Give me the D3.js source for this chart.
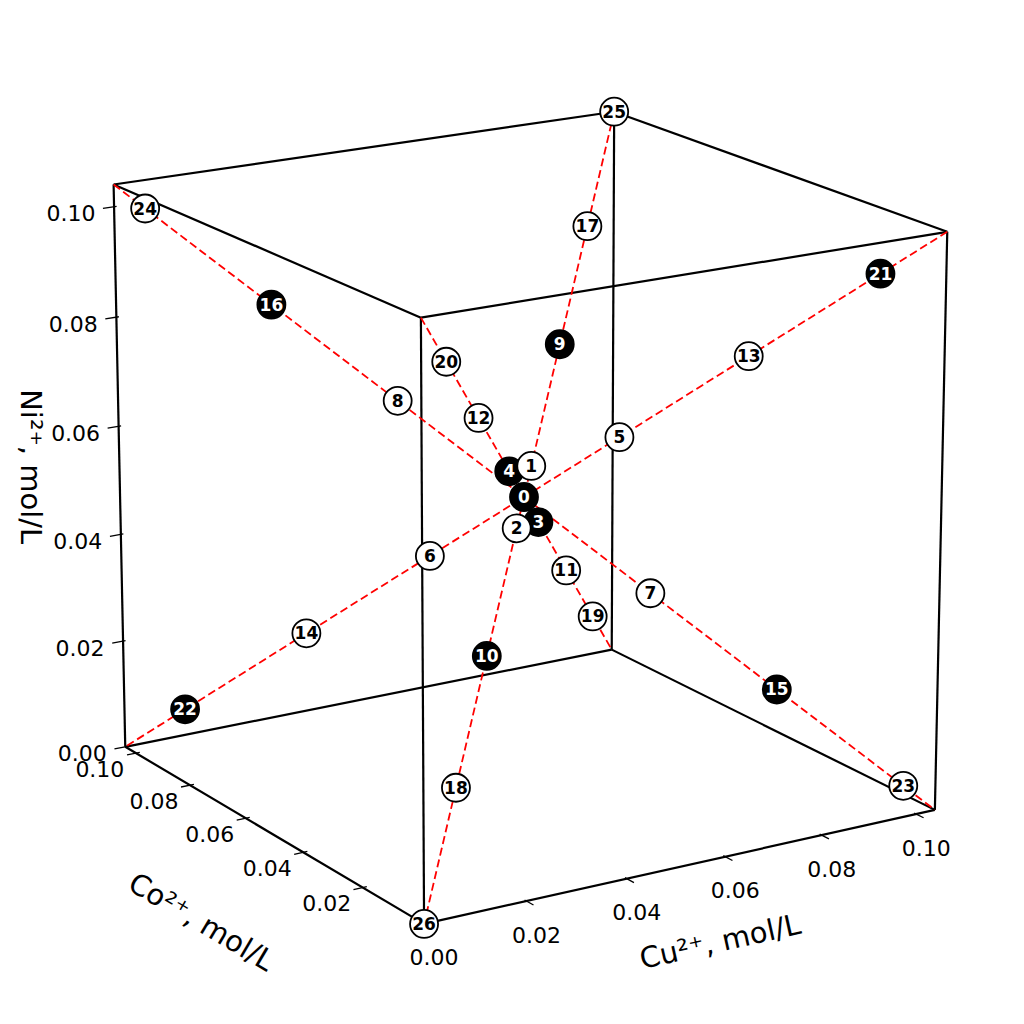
<!DOCTYPE html>
<html>
<head>
<meta charset="utf-8">
<script src="https://cdn.jsdelivr.net/npm/d3@7"></script>
<style>
  html, body { margin: 0; padding: 0; background: #fff; }
  svg { display: block; font-family: "DejaVu Sans", sans-serif; }
</style>
</head>
<body>
<div id="chart"></div>
<script>
// experiment points (mol/L)
const ids = [0, 1, 2, 3, 4, 5, 6, 7, 8, 9, 10, 11, 12, 13, 14, 15, 16, 17, 18, 19, 20, 21, 22, 23, 24, 25, 26];
const cu = [0.052, 0.056, 0.048, 0.060, 0.044, 0.064, 0.040, 0.068, 0.036, 0.072, 0.032, 0.076, 0.028, 0.080, 0.024, 0.084, 0.020, 0.088, 0.016, 0.092, 0.012, 0.096, 0.008, 0.100, 0.004, 0.104, 0];
const co = [0.052, 0.056, 0.048, 0.060, 0.044, 0.040, 0.064, 0.036, 0.068, 0.072, 0.032, 0.076, 0.028, 0.024, 0.080, 0.020, 0.084, 0.088, 0.016, 0.092, 0.012, 0.008, 0.096, 0.004, 0.100, 0.104, 0];
const ni = [0.052, 0.056, 0.048, 0.044, 0.060, 0.064, 0.040, 0.036, 0.068, 0.072, 0.032, 0.028, 0.076, 0.080, 0.024, 0.020, 0.084, 0.088, 0.016, 0.012, 0.092, 0.096, 0.008, 0.004, 0.100, 0.104, 0];
const filledIds = [0, 3, 4, 9, 10, 15, 16, 21, 22];

const limits = [0, 0.104];
const ticks = [0, 0.02, 0.04, 0.06, 0.08, 0.10];
const tickLabels = ["0.00", "0.02", "0.04", "0.06", "0.08", "0.10"];
const axisLabels = ["Cu²⁺, mol/L", "Co²⁺, mol/L", "Ni²⁺, mol/L"];

const width = 1024;
const height = 1024;

// camera
const view = { azim: 238, elev: 17, dist: 20, scale: 298, cx: 524, cy: 497 };

const norm = d3.scaleLinear().domain(limits).range([-1, 1]);

const rad = Math.PI / 180;
const az = view.azim * rad, el = view.elev * rad;
const R = [-Math.sin(az), Math.cos(az), 0];
const U = [-Math.sin(el) * Math.cos(az), -Math.sin(el) * Math.sin(az), Math.cos(el)];
const C = [Math.cos(el) * Math.cos(az), Math.cos(el) * Math.sin(az), Math.sin(el)];

function project(p) {
  const q = p.map(norm);
  const dot = (v) => v[0] * q[0] + v[1] * q[1] + v[2] * q[2];
  const k = view.dist / (view.dist - dot(C));
  return [view.cx + view.scale * dot(R) * k, view.cy - view.scale * dot(U) * k];
}

const svg = d3.select("#chart").append("svg")
  .attr("width", width)
  .attr("height", height);

const line = d3.line();
const lo = limits[0], hi = limits[1];

// cube edges
const corners = [];
[lo, hi].forEach((a) => [lo, hi].forEach((b) => [lo, hi].forEach((c) => corners.push([a, b, c]))));
const edges = [];
corners.forEach((p, i) => corners.forEach((q, j) => {
  if (j > i && p.filter((v, k) => v !== q[k]).length === 1) edges.push([p, q]);
}));

svg.append("g")
  .selectAll("path")
  .data(edges)
  .join("path")
  .attr("d", (d) => line(d.map(project)))
  .attr("fill", "none")
  .attr("stroke", "#000")
  .attr("stroke-width", 2.2);

// body diagonals
const diagonals = corners
  .filter((p) => p[2] === hi)
  .map((p) => [p, p.map((v) => lo + hi - v)]);

svg.append("g")
  .selectAll("path")
  .data(diagonals)
  .join("path")
  .attr("d", (d) => line(d.map(project)))
  .attr("fill", "none")
  .attr("stroke", "#ff0000")
  .attr("stroke-width", 1.8)
  .attr("stroke-dasharray", "8,4");

// axes: ticks and labels
const axesDef = [
  { // Cu along front bottom edge
    at: (v) => [v, lo, lo],
    tick: (v) => [[v, lo - 0.0022, lo], [v, lo + 0.0006, lo]],
    off: [10, 34],
    skip: [],
    label: axisLabels[0],
    mid: [(lo + hi) / 2, lo, lo],
    edge: [[lo, lo, lo], [hi, lo, lo]],
    lab: [34, 76]
  },
  { // Co along left bottom edge
    at: (v) => [lo, v, lo],
    tick: (v) => [[lo - 0.0018, v, lo], [lo + 0.0008, v, lo]],
    off: [-36, 16],
    skip: [0],
    label: axisLabels[1],
    mid: [lo, (lo + hi) / 2, lo],
    edge: [[lo, hi, lo], [lo, lo, lo]],
    lab: [-67, 90]
  },
  { // Ni along left vertical edge
    at: (v) => [lo, hi, v],
    tick: (v) => [[lo - 0.0022, hi, v], [lo + 0.0005, hi, v]],
    off: [-43, 7],
    skip: [],
    label: axisLabels[2],
    mid: [lo, hi, (lo + hi) / 2],
    edge: null,
    lab: [-89, -3]
  }
];

axesDef.forEach((ax) => {
  const g = svg.append("g");
  g.selectAll("path")
    .data(ticks)
    .join("path")
    .attr("d", (v) => line(ax.tick(v).map(project)))
    .attr("stroke", "#000")
    .attr("stroke-width", 1.3);

  g.selectAll("text")
    .data(ticks.filter((v) => !ax.skip.includes(v)))
    .join("text")
    .attr("x", (v) => project(ax.at(v))[0] + ax.off[0])
    .attr("y", (v) => project(ax.at(v))[1] + ax.off[1])
    .attr("text-anchor", "middle")
    .attr("dominant-baseline", "central")
    .attr("font-size", 22)
    .attr("fill", "#000")
    .text((v) => tickLabels[ticks.indexOf(v)]);

  const m = project(ax.mid);
  let angle = 90;
  if (ax.edge) {
    const a = project(ax.edge[0]), b = project(ax.edge[1]);
    angle = Math.atan2(b[1] - a[1], b[0] - a[0]) / rad;
  }
  svg.append("text")
    .attr("transform", `translate(${m[0] + ax.lab[0]},${m[1] + ax.lab[1]}) rotate(${angle})`)
    .attr("text-anchor", "middle")
    .attr("dominant-baseline", "central")
    .attr("font-size", 29)
    .attr("fill", "#000")
    .text(ax.label);
});

// markers: black first, then white; higher ids underneath
const points = ids.map((id, i) => ({
  id: id,
  pos: project([cu[i], co[i], ni[i]]),
  filled: filledIds.includes(id)
}));
points.sort((a, b) => (b.filled - a.filled) || (b.id - a.id));

const marks = svg.append("g")
  .selectAll("g")
  .data(points)
  .join("g")
  .attr("transform", (d) => `translate(${d.pos[0]},${d.pos[1]})`);

marks.append("circle")
  .attr("r", 14)
  .attr("fill", (d) => (d.filled ? "#000" : "#fff"))
  .attr("stroke", "#000")
  .attr("stroke-width", 1.8);

marks.append("text")
  .attr("text-anchor", "middle")
  .attr("dominant-baseline", "central")
  .attr("font-size", 17)
  .attr("font-weight", "bold")
  .attr("fill", (d) => (d.filled ? "#fff" : "#000"))
  .text((d) => d.id);
</script>
</body>
</html>
